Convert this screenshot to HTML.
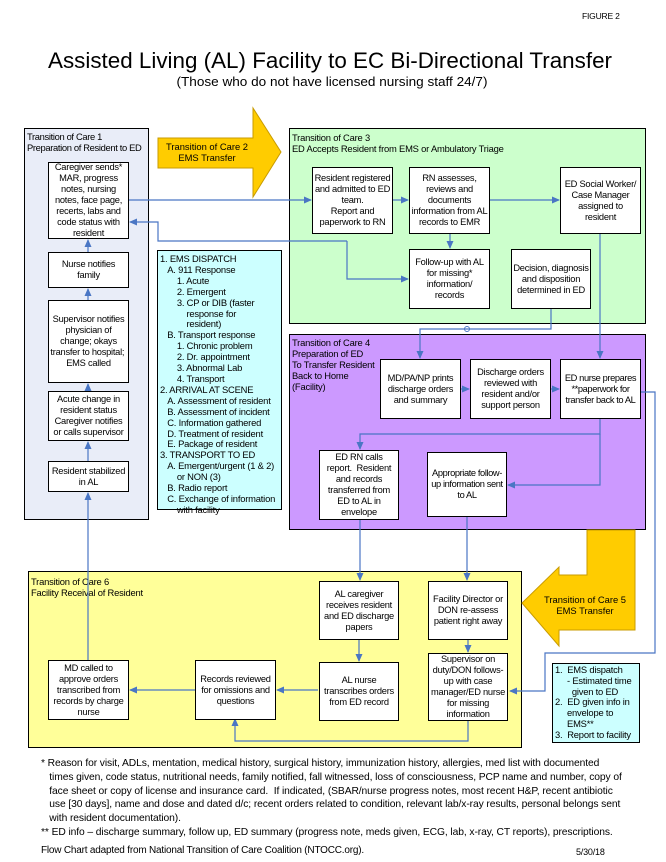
<!DOCTYPE html>
<html><head><meta charset="utf-8"><style>
*{margin:0;padding:0;box-sizing:border-box}
body{width:666px;height:862px;background:#fff;position:relative;overflow:hidden;font-family:"Liberation Sans",Arial,sans-serif;color:#000}
.p{position:absolute;border:1.3px solid #000}
.b{position:absolute;background:#fff;border:1.3px solid #000;display:flex;align-items:center;justify-content:center;text-align:center;font-size:9.3px;line-height:11px;letter-spacing:-0.25px;padding:1px}
.t{position:absolute;font-size:9.4px;line-height:11px;letter-spacing:-0.2px;white-space:nowrap}
svg{position:absolute;left:0;top:0}
</style></head><body>
<div class="t" style="left:582px;top:11px;font-size:8.5px">FIGURE 2</div>
<svg width="666" height="100" style="z-index:0">
<text x="330" y="68" font-family="Liberation Sans" font-size="22" text-anchor="middle" textLength="564" lengthAdjust="spacingAndGlyphs">Assisted Living (AL) Facility to EC Bi-Directional Transfer</text>
<text x="332" y="86" font-family="Liberation Sans" font-size="13" text-anchor="middle" textLength="311" lengthAdjust="spacingAndGlyphs">(Those who do not have licensed nursing staff 24/7)</text>
</svg>

<div class="p" style="left:24px;top:128px;width:125px;height:392px;background:#e9edf8"></div>
<div class="p" style="left:289px;top:128px;width:357px;height:196px;background:#ccffcc"></div>
<div class="p" style="left:289px;top:334px;width:357px;height:196px;background:#cc99ff"></div>
<div class="p" style="left:28px;top:571px;width:494px;height:177px;background:#ffff99"></div>
<div class="p" style="left:157px;top:250px;width:125px;height:260px;background:#ccffff"></div>
<div class="p" style="left:552px;top:663px;width:88px;height:80px;background:#ccffff"></div>

<div class="t" style="left:27px;top:131px;letter-spacing:-0.35px">Transition of Care 1<br>Preparation of Resident to ED</div>
<div class="t" style="left:292px;top:132px">Transition of Care 3<br>ED Accepts Resident from EMS or Ambulatory Triage</div>
<div class="t" style="left:292px;top:337px">Transition of Care 4<br>Preparation of ED<br>To Transfer Resident<br>Back to Home<br>(Facility)</div>
<div class="t" style="left:31px;top:576px">Transition of Care 6<br>Facility Receival of Resident</div>

<svg width="666" height="862" style="z-index:1">
<defs><marker id="a" markerWidth="8" markerHeight="8" refX="7" refY="4" orient="auto" markerUnits="userSpaceOnUse"><path d="M0,0.5 L8,4 L0,7.5z" fill="#4a76c4"/></marker></defs>
<polygon points="158,138 253,138 253,108 281,152 253,197 253,168 158,168" fill="#ffcc00" stroke="#c89b00" stroke-width="1"/>
<polygon points="587,530 635,530 635,630 559,630 559,646 522,603 559,567 559,575 587,575" fill="#ffcc00" stroke="#c89b00" stroke-width="1"/>
<text x="207" y="150" font-family="Liberation Sans" font-size="9.4" text-anchor="middle">Transition of Care 2</text>
<text x="207" y="161" font-family="Liberation Sans" font-size="9.4" text-anchor="middle">EMS Transfer</text>
<text x="585" y="603" font-family="Liberation Sans" font-size="9.4" text-anchor="middle">Transition of Care 5</text>
<text x="585" y="614" font-family="Liberation Sans" font-size="9.4" text-anchor="middle">EMS Transfer</text>
<g stroke="#4a76c4" stroke-width="1.2" fill="none">
<path d="M88,660 V493" marker-end="url(#a)"/>
<path d="M88,461 V442" marker-end="url(#a)"/>
<path d="M88,391 V384" marker-end="url(#a)"/>
<path d="M88,300 V289" marker-end="url(#a)"/>
<path d="M88,252 V240" marker-end="url(#a)"/>
<path d="M129,200 H311" marker-end="url(#a)"/>
<path d="M393,200 H408" marker-end="url(#a)"/>
<path d="M490,200 H559" marker-end="url(#a)"/>
<path d="M450,234 V248" marker-end="url(#a)"/>
<path d="M347,241 H158 V222 H130" marker-end="url(#a)"/>
<path d="M347,241 V279 H408" marker-end="url(#a)"/>
<path d="M551,309 V329 H420 V358" marker-end="url(#a)"/>
<path d="M600,234 V358" marker-end="url(#a)"/>
<path d="M461,389 H469" marker-end="url(#a)"/>
<path d="M551,389 H559" marker-end="url(#a)"/>
<path d="M600,419 V434 H360 V449" marker-end="url(#a)"/>
<path d="M600,434 V485 H508" marker-end="url(#a)"/>
<path d="M641,392 H655 V653 H545 V691 H510" marker-end="url(#a)"/>
<path d="M360,520 V580" marker-end="url(#a)"/>
<path d="M467,517 V580" marker-end="url(#a)"/>
<path d="M359,640 V661" marker-end="url(#a)"/>
<path d="M468,640 V652" marker-end="url(#a)"/>
<path d="M318,690 H277" marker-end="url(#a)"/>
<path d="M195,690 H130" marker-end="url(#a)"/>
<path d="M468,721 V741 H235 V719" marker-end="url(#a)"/>
</g>
<circle cx="467" cy="329" r="2.5" fill="none" stroke="#4a76c4" stroke-width="1"/>
</svg>

<div style="position:absolute;inset:0;z-index:2">
<div class="b" style="left:48px;top:162px;width:81px;height:77px">Caregiver sends*<br>MAR, progress notes, nursing notes, face page, recerts, labs and code status with resident</div>
<div class="b" style="left:48px;top:252px;width:81px;height:36px">Nurse notifies family</div>
<div class="b" style="left:48px;top:300px;width:81px;height:83px">Supervisor notifies physician of change; okays transfer to hospital;&nbsp; EMS called</div>
<div class="b" style="left:48px;top:391px;width:81px;height:50px">Acute change in resident status Caregiver notifies or calls supervisor</div>
<div class="b" style="left:48px;top:461px;width:81px;height:31px">Resident stabilized in AL</div>

<div class="b" style="left:312px;top:167px;width:81px;height:67px">Resident registered and admitted to ED team.<br>Report and paperwork to RN</div>
<div class="b" style="left:409px;top:167px;width:81px;height:67px">RN assesses, reviews and documents information from AL records to EMR</div>
<div class="b" style="left:560px;top:167px;width:81px;height:67px">ED Social Worker/ Case Manager assigned to resident</div>
<div class="b" style="left:409px;top:249px;width:81px;height:60px">Follow-up with AL for missing* information/ records</div>
<div class="b" style="left:511px;top:249px;width:80px;height:60px">Decision, diagnosis and disposition determined in ED</div>

<div class="b" style="left:380px;top:359px;width:81px;height:60px">MD/PA/NP prints discharge orders and summary</div>
<div class="b" style="left:470px;top:359px;width:81px;height:60px">Discharge orders reviewed with resident and/or support person</div>
<div class="b" style="left:560px;top:359px;width:81px;height:60px;letter-spacing:-0.4px">ED nurse prepares **paperwork for transfer back to AL</div>
<div class="b" style="left:319px;top:450px;width:80px;height:70px">ED RN calls report.&nbsp; Resident and records transferred from ED to AL in envelope</div>
<div class="b" style="left:427px;top:452px;width:80px;height:65px;letter-spacing:-0.4px">Appropriate follow-up information sent to AL</div>

<div class="b" style="left:319px;top:581px;width:80px;height:59px">AL caregiver receives resident and ED discharge papers</div>
<div class="b" style="left:428px;top:581px;width:80px;height:59px">Facility Director or DON re-assess patient right away</div>
<div class="b" style="left:428px;top:653px;width:80px;height:68px">Supervisor on duty/DON follows-up with case manager/ED nurse for missing information</div>
<div class="b" style="left:319px;top:662px;width:80px;height:59px">AL nurse transcribes orders from ED record</div>
<div class="b" style="left:195px;top:660px;width:81px;height:60px">Records reviewed for omissions and questions</div>
<div class="b" style="left:48px;top:660px;width:81px;height:60px">MD called to approve orders transcribed from records by charge nurse</div>

<div class="t" style="left:160px;top:254px;line-height:10.9px">1. EMS DISPATCH<br>&nbsp;&nbsp;&nbsp;A. 911 Response<br>&nbsp;&nbsp;&nbsp;&nbsp;&nbsp;&nbsp;&nbsp;1. Acute<br>&nbsp;&nbsp;&nbsp;&nbsp;&nbsp;&nbsp;&nbsp;2. Emergent<br>&nbsp;&nbsp;&nbsp;&nbsp;&nbsp;&nbsp;&nbsp;3. CP or DIB (faster<br>&nbsp;&nbsp;&nbsp;&nbsp;&nbsp;&nbsp;&nbsp;&nbsp;&nbsp;&nbsp;&nbsp;response for<br>&nbsp;&nbsp;&nbsp;&nbsp;&nbsp;&nbsp;&nbsp;&nbsp;&nbsp;&nbsp;&nbsp;resident)<br>&nbsp;&nbsp;&nbsp;B. Transport response<br>&nbsp;&nbsp;&nbsp;&nbsp;&nbsp;&nbsp;&nbsp;1. Chronic problem<br>&nbsp;&nbsp;&nbsp;&nbsp;&nbsp;&nbsp;&nbsp;2. Dr. appointment<br>&nbsp;&nbsp;&nbsp;&nbsp;&nbsp;&nbsp;&nbsp;3. Abnormal Lab<br>&nbsp;&nbsp;&nbsp;&nbsp;&nbsp;&nbsp;&nbsp;4. Transport<br>2. ARRIVAL AT SCENE<br>&nbsp;&nbsp;&nbsp;A. Assessment of resident<br>&nbsp;&nbsp;&nbsp;B. Assessment of incident<br>&nbsp;&nbsp;&nbsp;C. Information gathered<br>&nbsp;&nbsp;&nbsp;D. Treatment of resident<br>&nbsp;&nbsp;&nbsp;E. Package of resident<br>3. TRANSPORT TO ED<br>&nbsp;&nbsp;&nbsp;A. Emergent/urgent (1 &amp; 2)<br>&nbsp;&nbsp;&nbsp;&nbsp;&nbsp;&nbsp;&nbsp;or NON (3)<br>&nbsp;&nbsp;&nbsp;B. Radio report<br>&nbsp;&nbsp;&nbsp;C. Exchange of information<br>&nbsp;&nbsp;&nbsp;&nbsp;&nbsp;&nbsp;&nbsp;with facility</div>

<div class="t" style="left:555px;top:665px;line-height:10.8px">1.&nbsp; EMS dispatch<br>&nbsp;&nbsp;&nbsp;&nbsp;&nbsp;- Estimated time<br>&nbsp;&nbsp;&nbsp;&nbsp;&nbsp;&nbsp;&nbsp;given to ED<br>2.&nbsp; ED given info in<br>&nbsp;&nbsp;&nbsp;&nbsp;&nbsp;envelope to<br>&nbsp;&nbsp;&nbsp;&nbsp;&nbsp;EMS**<br>3.&nbsp; Report to facility</div>

<div class="t" style="left:41px;top:757px;font-size:10.3px;line-height:13.8px;letter-spacing:-0.1px">* Reason for visit, ADLs, mentation, medical history, surgical history, immunization history, allergies, med list with documented<br>&nbsp;&nbsp;&nbsp;times given, code status, nutritional needs, family notified, fall witnessed, loss of consciousness, PCP name and number, copy of<br>&nbsp;&nbsp;&nbsp;face sheet or copy of license and insurance card.&nbsp; If indicated, (SBAR/nurse progress notes, most recent H&amp;P, recent antibiotic<br>&nbsp;&nbsp;&nbsp;use [30 days], name and dose and dated d/c; recent orders related to condition, relevant lab/x-ray results, personal belongs sent<br>&nbsp;&nbsp;&nbsp;with resident documentation).<br>** ED info – discharge summary, follow up, ED summary (progress note, meds given, ECG, lab, x-ray, CT reports), prescriptions.</div>
<div class="t" style="left:41px;top:845px;font-size:10px">Flow Chart adapted from National Transition of Care Coalition (NTOCC.org).</div>
<div class="t" style="left:576px;top:847px;font-size:9px">5/30/18</div>
</div>
</body></html>
